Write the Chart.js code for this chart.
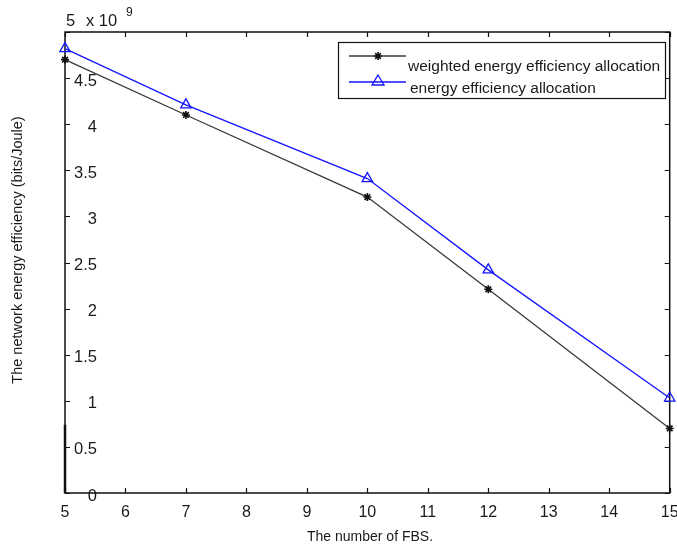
<!DOCTYPE html>
<html><head><meta charset="utf-8">
<script src="https://cdn.jsdelivr.net/npm/chart.js@4/dist/chart.umd.min.js"></script>
<style>html,body{margin:0;padding:0;background:#fff}#wrap{width:677px;height:546px}</style>
</head><body><div id="wrap"><canvas id="c" width="677" height="546"></canvas></div>
<script>
const fbsCounts = [5, 7, 10, 12, 15];
const weightedEE = [4.70, 4.10, 3.21, 2.21, 0.70];
const plainEE = [4.82, 4.21, 3.41, 2.42, 1.03];
const xTickValues = [5, 6, 7, 8, 9, 10, 11, 12, 13, 14, 15];
const yTickValues = [0, 0.5, 1, 1.5, 2, 2.5, 3, 3.5, 4, 4.5, 5];
const seriesNames = ['weighted energy efficiency allocation', 'energy efficiency allocation'];
const xTitle = 'The number of FBS.';
const yTitle = 'The network energy efficiency (bits/Joule)';
const FONT = 'Liberation Sans, Arial, sans-serif';
const DARK = '#383838';
const BLUE = '#1414ff';

const decor = {
  id: 'decor',
  beforeDatasetsDraw(chart) {
    const ctx = chart.ctx, a = chart.chartArea;
    const xs = chart.scales.x, ys = chart.scales.y;
    ctx.save();
    ctx.strokeStyle = '#111';
    ctx.lineWidth = 1.5;
    ctx.strokeRect(a.left, a.top, a.right - a.left, a.bottom - a.top);
    ctx.lineWidth = 1.2;
    ctx.beginPath();
    xTickValues.forEach(v => {
      const px = Math.round(xs.getPixelForValue(v)) + 0.5;
      ctx.moveTo(px, a.bottom); ctx.lineTo(px, a.bottom - 5);
      ctx.moveTo(px, a.top); ctx.lineTo(px, a.top + 5);
    });
    yTickValues.forEach(v => {
      const py = Math.round(ys.getPixelForValue(v)) + 0.5;
      ctx.moveTo(a.left, py); ctx.lineTo(a.left + 5, py);
      ctx.moveTo(a.right, py); ctx.lineTo(a.right - 5, py);
    });
    ctx.stroke();
    ctx.lineWidth = 2.5;
    ctx.beginPath();
    ctx.moveTo(a.left, ys.getPixelForValue(0.74)); ctx.lineTo(a.left, a.bottom);
    ctx.stroke();
    ctx.restore();
  },
  afterDraw(chart) {
    const ctx = chart.ctx, a = chart.chartArea;
    ctx.save();
    ctx.fillStyle = '#1a1a1a';
    ctx.font = '16.5px ' + FONT;
    ctx.textBaseline = 'middle';
    ctx.textAlign = 'left';
    ctx.fillText('5', a.left + 1, 21);
    ctx.fillText('x 10', a.left + 21, 21);
    ctx.font = '12px ' + FONT;
    ctx.fillText('9', a.left + 61, 13);
    ctx.font = '14px ' + FONT;
    ctx.textAlign = 'center';
    ctx.fillText(xTitle, 370, 537);
    ctx.save();
    ctx.translate(18, 250);
    ctx.rotate(-Math.PI / 2);
    ctx.font = '14.5px ' + FONT;
    ctx.fillText(yTitle, 0, 0);
    ctx.restore();
    const lx = 338, ly = 42, lw = 327, lh = 56;
    ctx.fillStyle = '#fff';
    ctx.fillRect(lx, ly, lw, lh);
    ctx.strokeStyle = '#111';
    ctx.lineWidth = 1.2;
    ctx.strokeRect(lx + 0.5, ly + 0.5, lw, lh);
    ctx.strokeStyle = DARK; ctx.lineWidth = 1.3;
    ctx.beginPath(); ctx.moveTo(349, 56); ctx.lineTo(406, 56); ctx.stroke();
    const sx = 378, sy = 56, r = 4;
    ctx.strokeStyle = '#111'; ctx.lineWidth = 1.6;
    ctx.beginPath();
    ctx.moveTo(sx - r, sy); ctx.lineTo(sx + r, sy);
    ctx.moveTo(sx, sy - r); ctx.lineTo(sx, sy + r);
    const d = r * 0.707;
    ctx.moveTo(sx - d, sy - d); ctx.lineTo(sx + d, sy + d);
    ctx.moveTo(sx - d, sy + d); ctx.lineTo(sx + d, sy - d);
    ctx.stroke();
    ctx.strokeStyle = BLUE; ctx.lineWidth = 1.3;
    ctx.beginPath(); ctx.moveTo(349, 82); ctx.lineTo(406, 82); ctx.stroke();
    ctx.beginPath();
    ctx.moveTo(378, 75); ctx.lineTo(384, 85); ctx.lineTo(372, 85); ctx.closePath();
    ctx.stroke();
    ctx.fillStyle = '#1a1a1a';
    ctx.font = '15.5px ' + FONT;
    ctx.textAlign = 'left';
    ctx.fillText(seriesNames[0], 408, 67, 257);
    ctx.fillText(seriesNames[1], 410, 89);
    ctx.restore();
  }
};

new Chart(document.getElementById('c'), {
  type: 'line',
  data: {
    datasets: [
      {
        label: seriesNames[0],
        data: fbsCounts.map((x, i) => ({x, y: weightedEE[i]})),
        borderColor: DARK, backgroundColor: DARK, borderWidth: 1.3,
        pointStyle: 'star', pointRadius: 4, pointBorderWidth: 1.6,
        pointBorderColor: '#111', tension: 0, clip: false
      },
      {
        label: seriesNames[1],
        data: fbsCounts.map((x, i) => ({x, y: plainEE[i]})),
        borderColor: BLUE, backgroundColor: 'rgba(0,0,0,0)', borderWidth: 1.3,
        pointStyle: 'triangle', pointRadius: 6, pointBorderWidth: 1.3,
        pointBorderColor: BLUE, tension: 0, clip: false
      }
    ]
  },
  options: {
    responsive: false, animation: false,
    layout: { padding: { left: 0, top: 32, right: 6, bottom: 0 } },
    plugins: { legend: { display: false }, tooltip: { enabled: false }, title: { display: false } },
    scales: {
      x: {
        type: 'linear', min: 5, max: 15,
        afterFit: s => { s.height = 53; s.paddingLeft = 0; s.paddingRight = 0; },
        afterBuildTicks: s => { s.ticks = xTickValues.map(v => ({value: v})); },
        grid: { display: false, drawTicks: false }, border: { display: false },
        ticks: { color: '#1a1a1a', font: { family: FONT, size: 16 }, padding: 10, maxRotation: 0, autoSkip: false }
      },
      y: {
        type: 'linear', min: 0, max: 5,
        afterFit: s => { s.width = 65; s.paddingTop = 0; s.paddingBottom = 0; },
        afterBuildTicks: s => { s.ticks = yTickValues.map(v => ({value: v})); },
        grid: { display: false, drawTicks: false }, border: { display: false },
        ticks: {
          color: '#1a1a1a', font: { family: FONT, size: 16.5 }, mirror: true, crossAlign: 'far',
          padding: 9, labelOffset: 3, autoSkip: false,
          callback: v => (v === 5 ? '' : String(v))
        }
      }
    }
  },
  plugins: [decor]
});
</script></body></html>
